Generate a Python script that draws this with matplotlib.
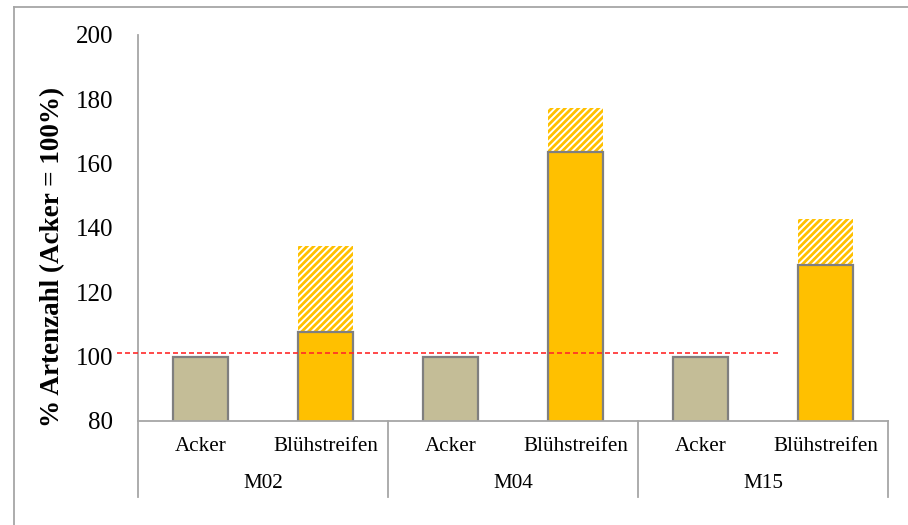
import numpy as np
import matplotlib
matplotlib.use("Agg")
import matplotlib.pyplot as plt
from matplotlib.lines import Line2D
import matplotlib.transforms as mtransforms

# Artenzahl relativ zum Acker (Acker = 100 %)
groups = ["M02", "M04", "M15"]
kinds = ["Acker", "Blühstreifen"]
acker = [100, 100, 100]
bluehstreifen = [107.6, 163.7, 128.6]
bluehstreifen_gesamt = [134.5, 177.2, 142.8]  # inkl. schraffiertem Anteil
referenz = 101

plt.rcParams['font.family'] = ['Liberation Serif', 'DejaVu Serif']
plt.rcParams['hatch.linewidth'] = 2.0

fig = plt.figure(figsize=(9.08, 5.25), dpi=100)
ax = fig.add_axes([138/908, 1-421/525, 750/908, 386/525])

gelb = "#FFC000"
beige = "#C4BD97"
rand = "#7F7F7F"
achse = "#A6A6A6"
w = 0.44

x_acker = np.arange(len(groups))*2
x_blueh = x_acker + 1

ax.bar(x_acker, acker, width=w, color=beige, edgecolor=rand, linewidth=1.6, zorder=2)
ax.bar(x_blueh, bluehstreifen, width=w, color=gelb, edgecolor=rand, linewidth=1.6, zorder=2)
extra = np.array(bluehstreifen_gesamt) - np.array(bluehstreifen)
ax.bar(x_blueh, extra, bottom=bluehstreifen, width=w, color="white", edgecolor=gelb,
       linewidth=0, hatch="/////", zorder=1)

# Referenzlinie
ax.plot([-0.67, 4.62], [referenz, referenz], color="#FF2A2A", lw=1.2,
        dashes=(3, 1.8), clip_on=False, zorder=3)

ax.set_xlim(-0.5, 5.5)
ax.set_ylim(80, 200)
ax.set_yticks(np.arange(80, 201, 20))
ax.tick_params(axis='y', length=0, labelsize=18, pad=18)
ax.set_xticks([])
for s in ["top", "right"]:
    ax.spines[s].set_visible(False)
ax.spines["left"].set_color(achse)
ax.spines["bottom"].set_color(achse)
ax.spines["left"].set_linewidth(1.3)
ax.spines["bottom"].set_linewidth(1.3)

ax.set_ylabel("% Artenzahl (Acker = 100%)", fontsize=19.5, fontweight="bold")
ax.yaxis.set_label_coords(-0.097, 0.425)

# zweistufige Kategorienachse
trans = mtransforms.blended_transform_factory(ax.transData, ax.transAxes)
for b in [-0.5, 1.5, 3.5, 5.5]:
    ax.add_line(Line2D([b, b], [0, -0.197], transform=trans, color=achse,
                       lw=1.3, clip_on=False))
for i, g in enumerate(groups):
    for j, k in enumerate(kinds):
        ax.text(2*i + j, -0.067, k, transform=trans, ha="center", va="center",
                fontsize=15.2)
    ax.text(2*i + 0.5, -0.163, g, transform=trans, ha="center", va="center",
            fontsize=15.2)

# Rahmen um das Diagramm
fig.add_artist(Line2D([14/908, 14/908], [0, 1-7/525], transform=fig.transFigure,
                      color=achse, lw=1.3))
fig.add_artist(Line2D([14/908, 1], [1-7/525, 1-7/525], transform=fig.transFigure,
                      color=achse, lw=1.3))

fig.savefig("out.png", dpi=100)
